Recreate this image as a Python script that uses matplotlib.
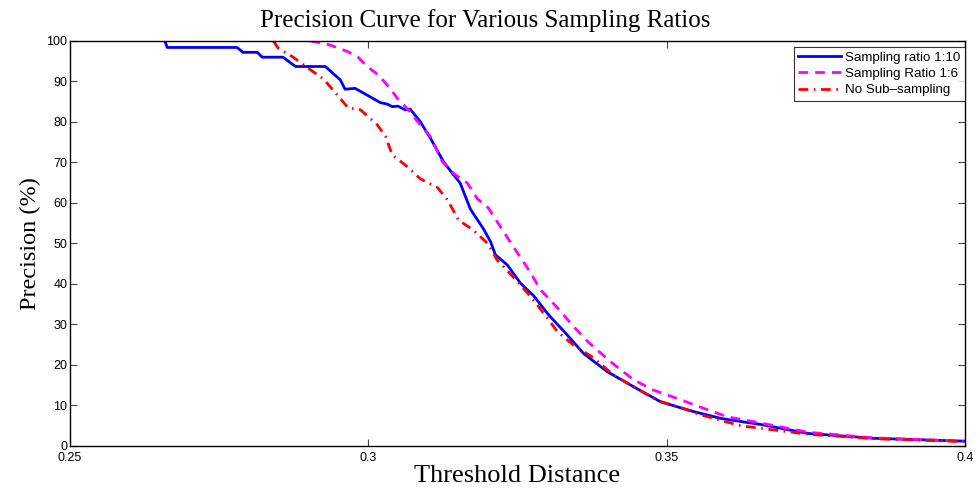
import numpy as np
import matplotlib
matplotlib.use('Agg')
import matplotlib.pyplot as plt

# Precision (%) vs threshold distance
x_ratio10 = [0.2659, 0.2663, 0.2780, 0.2790, 0.2814, 0.2822, 0.2857, 0.2878, 0.2928, 0.2953,
             0.2961, 0.2978, 0.3020, 0.3032, 0.3040, 0.3050, 0.3062, 0.3070, 0.3087, 0.3104,
             0.3126, 0.3141, 0.3154, 0.3171, 0.3193, 0.3205, 0.3213, 0.3233, 0.3255, 0.3277,
             0.3302, 0.3331, 0.3361, 0.3401, 0.3445, 0.3490, 0.3545, 0.3591, 0.3658, 0.3737,
             0.3847, 0.3998]
y_ratio10 = [100.0, 98.4, 98.4, 97.2, 97.2, 96.0, 96.0, 93.7, 93.7, 90.4,
             88.1, 88.3, 84.8, 84.4, 83.8, 83.9, 83.0, 83.2, 80.1, 76.0,
             70.2, 67.3, 64.9, 58.5, 53.6, 50.4, 47.2, 44.7, 40.2, 37.1,
             32.4, 27.8, 22.8, 18.3, 14.6, 10.9, 8.5, 6.8, 5.3, 3.1,
             1.9, 1.2]

x_ratio6 = [0.2903, 0.2911, 0.2936, 0.2965, 0.2982, 0.2998, 0.3017, 0.3034, 0.3049, 0.3067,
            0.3087, 0.3104, 0.3124, 0.3143, 0.3166, 0.3183, 0.3201, 0.3225, 0.3243, 0.3267,
            0.3289, 0.3314, 0.3344, 0.3369, 0.3406, 0.3445, 0.3478, 0.3524, 0.3562, 0.3602,
            0.3646, 0.3737, 0.3847, 0.3998]
y_ratio6 = [100.0, 99.8, 99.0, 97.4, 96.1, 93.7, 91.6, 88.7, 85.8, 83.0,
            79.3, 76.4, 70.2, 67.3, 64.9, 61.0, 58.8, 53.3, 49.2, 43.9,
            38.5, 34.6, 29.5, 25.6, 20.8, 16.3, 13.8, 11.4, 9.3, 7.2,
            6.0, 3.4, 2.0, 1.2]

x_nosub = [0.2841, 0.2849, 0.2874, 0.2899, 0.2925, 0.2945, 0.2966, 0.2987, 0.3015, 0.3029,
           0.3040, 0.3065, 0.3087, 0.3116, 0.3133, 0.3151, 0.3176, 0.3200, 0.3216, 0.3250,
           0.3277, 0.3302, 0.3317, 0.3344, 0.3378, 0.3411, 0.3445, 0.3485, 0.3535, 0.3557,
           0.3624, 0.3737, 0.3847, 0.3998]
y_nosub = [100.0, 98.2, 96.0, 93.3, 90.6, 87.2, 83.5, 83.0, 79.3, 76.4,
           71.9, 69.0, 66.0, 63.8, 60.7, 55.8, 53.3, 50.0, 45.9, 40.6,
           36.0, 31.2, 28.2, 24.9, 21.7, 17.5, 14.6, 11.2, 8.9, 7.7,
           5.0, 2.9, 1.8, 1.1]

labels = ['Sampling ratio 1:10', 'Sampling Ratio 1:6', 'No Sub\u2013sampling']
x_ticks = [0.25, 0.3, 0.35, 0.4]
x_tick_labels = ['0.25', '0.3', '0.35', '0.4']
y_ticks = np.arange(0, 101, 10)

plt.rcParams['font.family'] = ['Liberation Sans', 'DejaVu Sans']

fig = plt.figure(figsize=(9.8, 4.92), dpi=100)
ax = fig.add_axes([0.0714, 0.0935, 0.9133, 0.8232])

ax.plot(x_ratio10, y_ratio10, color='#0000ff', lw=2.0, ls='-', label=labels[0])
ax.plot(x_ratio6, y_ratio6, color='#ff00ff', lw=2.0, ls=(0, (3.5, 2.5)), label=labels[1])
ax.plot(x_nosub, y_nosub, color='#ff0000', lw=2.0, ls=(0, (3.5, 2, 0.6, 2)), label=labels[2])

ax.set_xlim(0.25, 0.4)
ax.set_ylim(0, 100)
ax.set_xticks(x_ticks)
ax.set_xticklabels(x_tick_labels)
ax.set_yticks(y_ticks)
ax.tick_params(direction='in', length=5, width=0.8, top=True, right=True,
               labelsize=9, color='#444444', pad=2)
ax.tick_params(axis='x', pad=4)
for s in ax.spines.values():
    s.set_linewidth(1.0)

serif = ['Liberation Serif', 'DejaVu Serif']
# title sits slightly left of the axes centre in the reference
fig.text(0.495, 0.945, 'Precision Curve for Various Sampling Ratios', family=serif,
         fontsize=18, ha='center', va='baseline')
ax.set_xlabel('Threshold Distance', family=serif, fontsize=19, labelpad=1)
ax.set_ylabel('Precision (%)', family=serif, fontsize=17.5, labelpad=4)

leg = ax.legend(loc='upper right', bbox_to_anchor=(1.0, 0.985), fontsize=9.6, frameon=True,
                fancybox=False, edgecolor='black', handlelength=3.2, borderpad=0.35,
                labelspacing=0.28, handletextpad=0.3, borderaxespad=0)
leg.get_frame().set_linewidth(0.8)

fig.savefig('out.png', dpi=100)
